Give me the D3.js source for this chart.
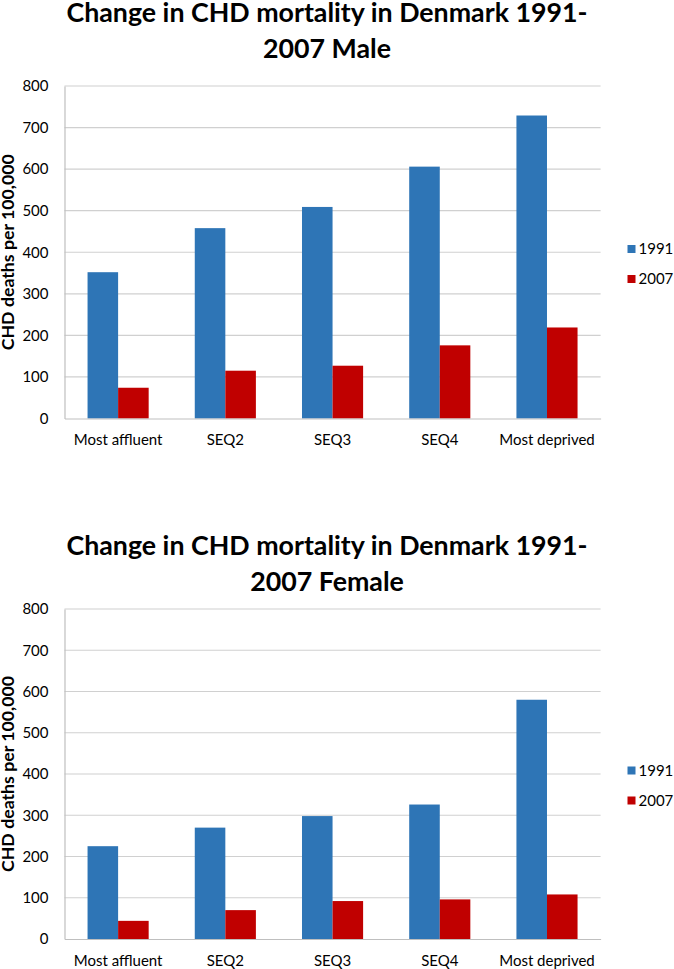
<!DOCTYPE html>
<html><head><meta charset="utf-8">
<script src="https://cdn.jsdelivr.net/npm/d3@7"></script>
<style>
html,body{margin:0;padding:0;background:#fff;}
svg{display:block;}
text{font-family:Lato,"Open Sans",sans-serif;fill:#000;}
</style></head>
<body>
<svg id="chart" width="674" height="969"></svg>
<script>
const categories = ["Most affluent","SEQ2","SEQ3","SEQ4","Most deprived"];
const seriesNames = ["1991","2007"];
const male1991 = [352,458,509,606,729];
const male2007 = [74,115,127,176,219];
const female1991 = [225,270,298,326,580];
const female2007 = [44,70,92,96,108];
const yTicks = [0,100,200,300,400,500,600,700,800];
const titlesMale = ["Change in CHD mortality in Denmark 1991-","2007 Male"];
const titlesFemale = ["Change in CHD mortality in Denmark 1991-","2007 Female"];
const yTitle = "CHD deaths per 100,000";
const colors = ["#2E75B6","#C00000"];

const svg = d3.select("#chart");
const PL = 64.5, PR = 600.6;

function squeeze(sel, factor){
  sel.each(function(){
    const w = this.getComputedTextLength();
    d3.select(this).attr("textLength", w*factor).attr("lengthAdjust","spacingAndGlyphs");
  });
}

function drawChart(cfg){
  const g = svg.append("g");
  const x0 = d3.scaleBand().domain(categories).range([PL,PR]).paddingInner(0.43).paddingOuter(0.215);
  const x1 = d3.scaleBand().domain(seriesNames).range([0,x0.bandwidth()]);
  const y = d3.scaleLinear().domain([0,800]).range([cfg.bottom,cfg.top]);
  // titles
  const tt = g.selectAll("text.title").data(cfg.titles).join("text")
    .attr("class","title")
    .attr("x",327).attr("y",(d,i)=>cfg.titleY + i*36)
    .attr("text-anchor","middle")
    .style("font-size","26px").style("font-weight","bold")
    .text(d=>d);
  const w0 = tt.node().getComputedTextLength();
  squeeze(tt, 521/w0);
  // grid
  g.append("g").selectAll("line").data(yTicks.filter(d=>d>0)).join("line")
    .attr("x1",PL).attr("x2",PR)
    .attr("y1",d=>y(d)).attr("y2",d=>y(d))
    .attr("stroke","#D0D0D0").attr("stroke-width",1.2);
  // y axis
  const ya = g.append("g").attr("transform",`translate(${PL},0)`).call(d3.axisLeft(y).tickValues(yTicks).tickSize(0).tickPadding(16));
  ya.select(".domain").attr("stroke","#BFBFBF").attr("stroke-width",1.2);
  ya.selectAll("text").style("font-size","15px").style("font-family","Lato, sans-serif");
  // bars
  const data = categories.map((c,i)=>({cat:c, vals:[cfg.s1[i],cfg.s2[i]]}));
  const grp = g.append("g").selectAll("g").data(data).join("g")
    .attr("transform",d=>`translate(${x0(d.cat)},0)`);
  grp.selectAll("rect").data(d=>d.vals.map((v,j)=>({k:seriesNames[j],v,j}))).join("rect")
    .attr("x",d=>x1(d.k)).attr("width",x1.bandwidth())
    .attr("y",d=>y(d.v)).attr("height",d=>y(0)-y(d.v))
    .attr("fill",d=>colors[d.j]);
  // x axis
  const xa = g.append("g").attr("transform",`translate(0,${y(0)})`).call(d3.axisBottom(x0).tickSize(0).tickPadding(16));
  xa.select(".domain").attr("stroke","#BFBFBF").attr("stroke-width",1.2);
  xa.selectAll("text").style("font-size","15px").style("font-family","Lato, sans-serif");
  // y title
  const yt = g.append("text").attr("transform",`translate(13.5,${(cfg.top+cfg.bottom)/2}) rotate(-90)`)
    .attr("text-anchor","middle").style("font-size","17.5px").style("font-weight","bold")
    .text(yTitle);
  squeeze(yt, 196/yt.node().getComputedTextLength());
  // legend
  const lg = g.append("g").selectAll("g").data(seriesNames).join("g")
    .attr("transform",(d,i)=>`translate(627.5,${cfg.legendY + i*30})`);
  lg.append("rect").attr("x",0).attr("y",-4).attr("width",8).attr("height",8).attr("fill",(d,i)=>colors[i]);
  lg.append("text").attr("x",11).attr("y",0).attr("dy","0.35em").style("font-size","15px").text(d=>d);
}

drawChart({titles:titlesMale,titleY:22,top:86,bottom:418.5,s1:male1991,s2:male2007,legendY:249});
drawChart({titles:titlesFemale,titleY:555,top:609,bottom:939,s1:female1991,s2:female2007,legendY:770.5});
</script>
</body></html>
